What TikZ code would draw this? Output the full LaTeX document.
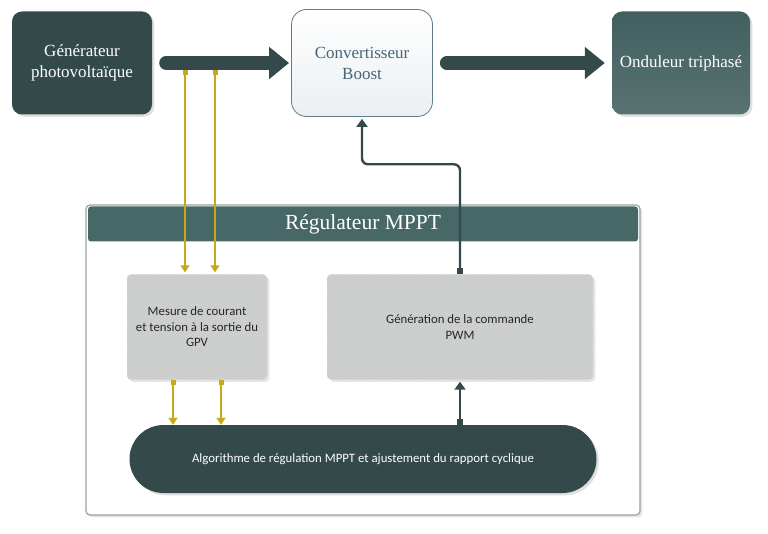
\documentclass[tikz,border=0pt]{standalone}
\usepackage{fontspec}
\setmainfont{Liberation Serif}
\newfontfamily\boxfont{Carlito}
\usetikzlibrary{arrows.meta,shadows,patterns}
\definecolor{slate}{RGB}{52,73,74}
\definecolor{teal1}{RGB}{66,95,95}
\definecolor{headc}{RGB}{72,103,103}
\definecolor{edgeb}{RGB}{95,125,140}
\definecolor{textb}{RGB}{70,100,118}
\definecolor{greyb}{RGB}{210,212,212}
\definecolor{hatch}{RGB}{196,198,198}
\definecolor{yel}{RGB}{200,168,24}
\definecolor{frame}{RGB}{150,162,162}
\tikzset{
  darkbox/.style={fill=slate, rounded corners=10pt, minimum width=140pt, minimum height=103pt,
    text=white, align=center, font=\fontsize{17}{21}\selectfont, drop shadow={opacity=0.25}},
  greybox/.style={fill=greyb, rounded corners=4pt, align=center, text=black!85,
    font=\boxfont\fontsize{12.8}{15.5}\selectfont, drop shadow={opacity=0.2},
    postaction={pattern=north east lines, pattern color=hatch}},
  bigarrow/.style={draw=slate, line width=14pt, line cap=round, -{Triangle[length=20pt,width=31pt]}},
  yline/.style={draw=yel, line width=1.6pt, {Square[length=5pt,width=5pt]}-{Triangle[length=7pt,width=9pt]}},
  dline/.style={draw=slate, line width=2.4pt, {Square[length=6pt,width=6pt]}-{Triangle[length=8pt,width=11pt]}}
}
\begin{document}
\begin{tikzpicture}[x=1pt,y=-1pt]
\useasboundingbox (0,0) rectangle (768,534);
% top row
\node[darkbox] (gen) at (82,63) {Générateur\\photovoltaïque};
\node[draw=edgeb, line width=0.8pt, top color=white, bottom color={rgb,255:red,234;green,239;blue,243},
  rounded corners=15pt, minimum width=141pt, minimum height=107pt, text=textb, align=center,
  font=\fontsize{17}{21}\selectfont] (boost) at (362,63) {Convertisseur\\Boost};
\node[darkbox, fill=none, top color=teal1, bottom color=teal1!88!white, minimum width=138pt] (ond) at (681,63) {Onduleur triphasé};
\draw[bigarrow, shorten <=14pt, shorten >=2pt] (gen.east) -- (boost.west);
\draw[bigarrow, shorten <=14pt, shorten >=7pt] (boost.east) -- (ond.west);
% regulator panel
\node[draw=frame, line width=1.2pt, fill=white, rounded corners=4pt, minimum width=554pt,
  minimum height=310pt, drop shadow={opacity=0.2}] (panel) at (363,360) {};
\node[fill=headc, rounded corners=3pt, minimum width=550pt, minimum height=35pt, text=white,
  font=\fontsize{21.5}{25}\selectfont] (head) at (363,224) {Régulateur MPPT};
\node[greybox, minimum width=140pt, minimum height=105pt] (mesure) at (197,327) {Mesure de courant\\et tension à la sortie du\\GPV};
\node[greybox, minimum width=266pt, minimum height=105pt] (pwm) at (460,327) {Génération de la commande\\PWM};
\node[fill=slate, rounded corners=34pt, minimum width=467pt, minimum height=68pt, text=white,
  font=\boxfont\fontsize{12.8}{15.5}\selectfont, drop shadow={opacity=0.25}] (algo) at (363,459)
  {Algorithme de régulation MPPT et ajustement du rapport cyclique};
% measures
\coordinate (m1) at (185,70);
\coordinate (m2) at (215,70);
\draw[yline, shorten >=2pt] (m1) -- (m1 |- mesure.north);
\draw[yline, shorten >=2pt] (m2) -- (m2 |- mesure.north);
\draw[yline] ([xshift=-24pt]mesure.south) -- ([xshift=-24pt]mesure.south |- algo.north);
\draw[yline] ([xshift=24pt]mesure.south) -- ([xshift=24pt]mesure.south |- algo.north);
% command
\draw[dline, shorten >=2pt] (algo.north -| pwm.south) -- (pwm.south);
\draw[dline, rounded corners=6pt, shorten >=2pt] (pwm.north) -- ++(0,-110) -| (boost.south);
\end{tikzpicture}
\end{document}
